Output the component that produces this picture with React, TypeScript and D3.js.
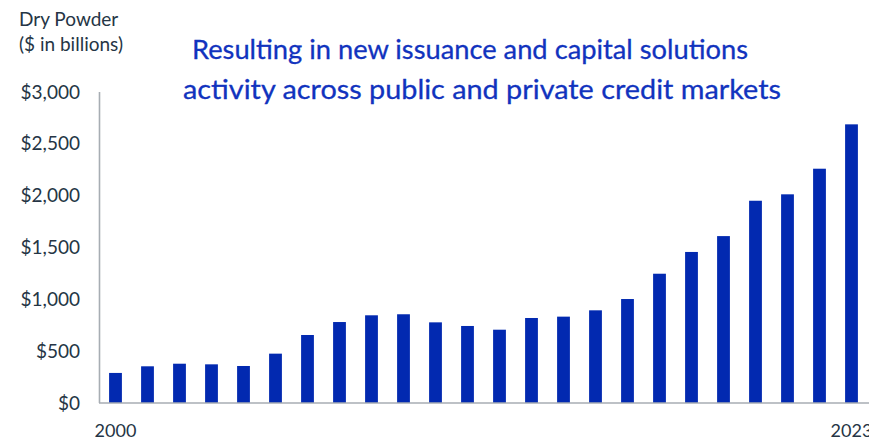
import React from "react";
import * as d3 from "d3";

const years: string[] = [
  "2000","2001","2002","2003","2004","2005","2006","2007","2008","2009","2010","2011",
  "2012","2013","2014","2015","2016","2017","2018","2019","2020","2021","2022","2023",
];
const dryPowder: number[] = [
  290, 354, 379, 373, 357, 476, 656, 781, 846, 856, 778, 743,
  707, 820, 833, 894, 1003, 1247, 1457, 1610, 1951, 2013, 2260, 2688,
];
const yTicks: number[] = [0, 500, 1000, 1500, 2000, 2500, 3000];
const labeledYears: string[] = ["2000", "2023"];
const axisTitle: string[] = ["Dry Powder", "($ in billions)"];
const chartTitle: string[] = [
  "Resulting in new issuance and capital solutions",
  "activity across public and private credit markets",
];

const W = 869;
const H = 440;
const FONT = "Lato, 'Open Sans', sans-serif";
const TEXT = "#253545";
const BLUE = "#0229B0";
const TITLE_BLUE = "#1133BE";
const AXIS = "#A7ADB3";

export default function App() {
  const x = d3.scaleBand<string>().domain(years).range([99.5, 867.5]).paddingInner(0.6).paddingOuter(0.3);
  const y = d3.scaleLinear().domain([0, 3000]).range([403, 92]);
  const fmt = (v: number) => "$" + d3.format(",")(v);

  return (
    <svg
      width={W}
      height={H}
      viewBox={`0 0 ${W} ${H}`}
      style={{ position: "absolute", left: 0, top: 0, background: "#fff" }}
      fontFamily={FONT}
    >
      <rect x={0} y={0} width={W} height={H} fill="#fff" />
      {/* axis title */}
      <text x={19} y={26} fontSize={19} fill={TEXT}>{axisTitle[0]}</text>
      <text x={19} y={51} fontSize={19} fill={TEXT}>{axisTitle[1]}</text>

      {/* chart title */}
      <text x={192} y={59} fontSize={27.5} fill={TITLE_BLUE} stroke={TITLE_BLUE} strokeWidth={0.3} textLength={556} lengthAdjust="spacingAndGlyphs">
        {chartTitle[0]}
      </text>
      <text x={183} y={99} fontSize={27.5} fill={TITLE_BLUE} stroke={TITLE_BLUE} strokeWidth={0.3} textLength={598} lengthAdjust="spacingAndGlyphs">
        {chartTitle[1]}
      </text>

      {/* y tick labels */}
      {yTicks.map((t) => (
        <text key={t} x={80} y={y(t)} dy="0.35em" textAnchor="end" fontSize={19} fill={TEXT}>
          {fmt(t)}
        </text>
      ))}

      {/* bars */}
      {years.map((yr, i) => (
        <rect
          key={yr}
          x={x(yr)!}
          y={y(dryPowder[i])}
          width={x.bandwidth()}
          height={y(0) - y(dryPowder[i])}
          fill={BLUE}
        />
      ))}

      {/* axes */}
      <line x1={99.5} x2={99.5} y1={92} y2={403} stroke={AXIS} strokeWidth={1.6} />
      <line x1={99} x2={W} y1={403} y2={403} stroke={AXIS} strokeWidth={1.6} />

      {/* x labels */}
      {labeledYears.map((yr) => (
        <text
          key={yr}
          x={x(yr)! + x.bandwidth() / 2}
          y={437}
          textAnchor="middle"
          fontSize={18}
          fill={TEXT}
        >
          {yr}
        </text>
      ))}
    </svg>
  );
}
